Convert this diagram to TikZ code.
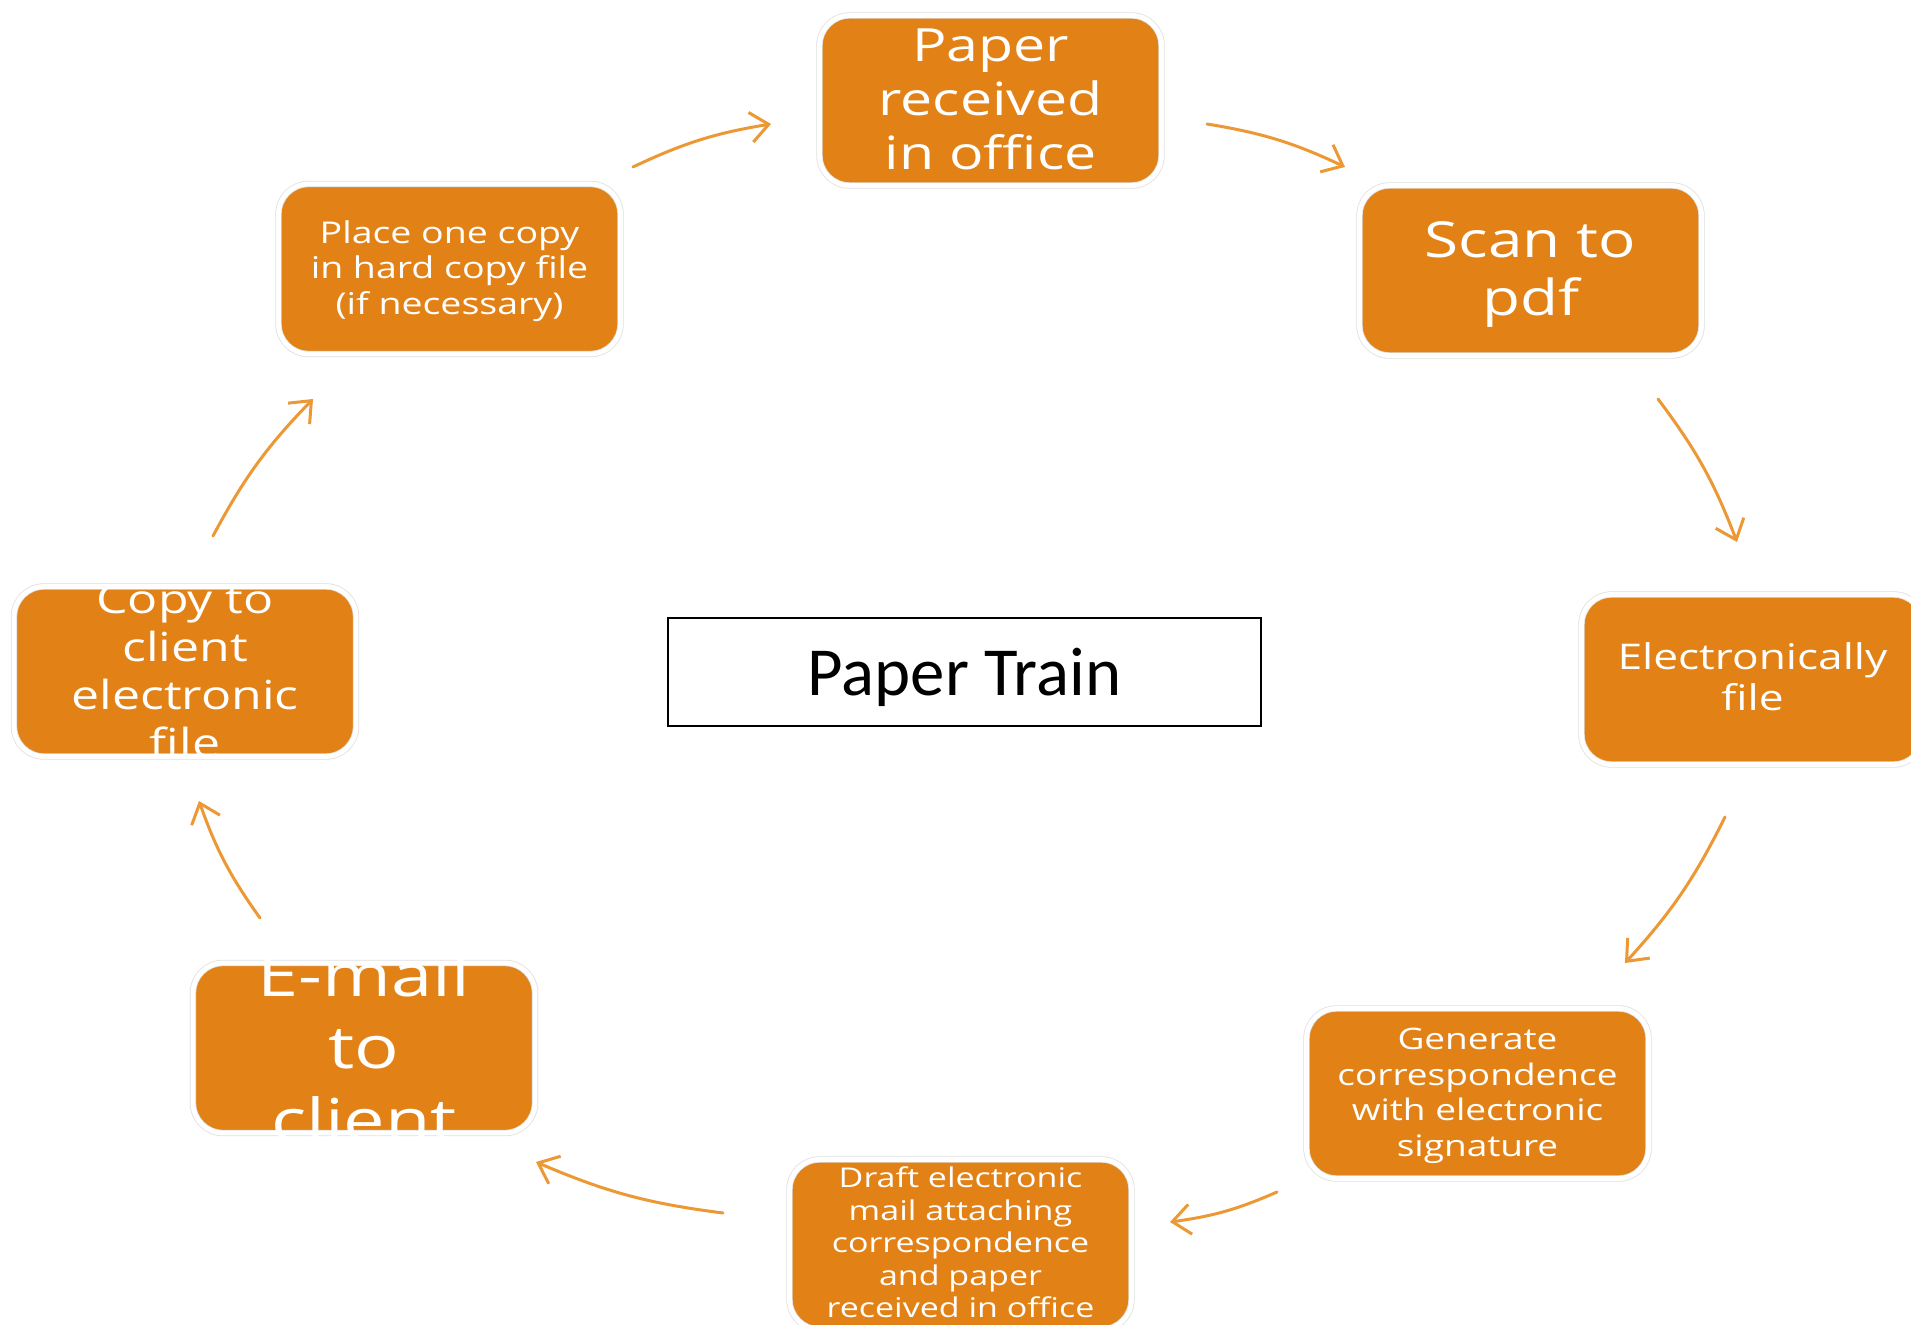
\documentclass[tikz,border=0pt]{standalone}
\usepackage{fontspec}
\setmainfont{Open Sans}
\newfontfamily\boxfont[FakeStretch=1.25]{Open Sans}
\newfontfamily\calfont{Carlito}
\usetikzlibrary{arrows.meta}
\definecolor{boxorange}{RGB}{226,130,22}
\definecolor{arroworange}{RGB}{236,152,52}
\begin{document}
\begin{tikzpicture}[x=0.5pt,y=-0.5pt,
  box/.style={draw=black!12, line width=0.4pt, double=white, double distance=2.4pt,
    fill=boxorange, rounded corners=15pt, minimum width=171pt, minimum height=85pt, inner sep=0pt},
  boxtxt/.style={text=white, align=center, inner sep=0pt, font=\boxfont},
  flow/.style={draw=arroworange, line width=1.5pt, line cap=round,
    -{Straight Barb[length=9pt,width=15pt,line width=1.5pt]}, bend left=8},
  titlebox/.style={draw=black, line width=0.7pt, fill=white, minimum width=296.5pt, minimum height=54pt, inner sep=0pt}]
\useasboundingbox (0,0) rectangle (1911,1325);
\fill[white] (0,0) rectangle (1911,1325);
\begin{scope}
\clip (0,0) rectangle (1911,1325);
% boxes
\node[box] (b1) at (990.5,100.5) {};
\node[box] (b2) at (1530.5,270.5) {};
\node[box] (b3) at (1752.5,679.5) {};
\node[box] (b4) at (1477.5,1093.5) {};
\node[box] (b5) at (960.5,1244.5) {};
\node[box] (b6) at (364,1048) {};
\node[box] (b7) at (185,671.5) {};
\node[box] (b8) at (449.5,269) {};
% texts
\node[boxtxt, font=\boxfont\fontsize{22.9}{27}\selectfont] (t1) at ([yshift=0.8pt]b1) {Paper\\received\\in office};
\node[boxtxt, font=\boxfont\fontsize{24.8}{29}\selectfont] (t2) at ([yshift=-1.8pt]b2) {Scan to\\pdf};
\node[boxtxt, font=\boxfont\fontsize{17.7}{20.7}\selectfont] (t3) at ([yshift=1.5pt]b3) {Electronically\\file};
\node[boxtxt, font=\boxfont\fontsize{14.8}{17.7}\selectfont] (t4) at ([yshift=-1.2pt]b4) {Generate\\correspondence\\with electronic\\signature};
\node[boxtxt, font=\boxfont\fontsize{13.6}{16.3}\selectfont] (t5) at ([yshift=1pt]b5) {Draft electronic\\mail attaching\\correspondence\\and paper\\received in office};
\node[boxtxt, font=\boxfont\fontsize{29.6}{36.3}\selectfont] (t6) at ([yshift=0.8pt]b6) {E-mail\\to\\client};
\node[boxtxt, font=\boxfont\fontsize{20}{24}\selectfont] (t7) at (b7) {Copy to\\client\\electronic\\file};
\node[boxtxt, font=\boxfont\fontsize{15}{17.7}\selectfont] (t8) at ([yshift=-1pt]b8) {Place one copy\\in hard copy file\\(if necessary)};
\end{scope}
% centre title
\node[titlebox] (title) at (964.5,672) {};
\node[inner sep=0pt, font=\calfont\fontsize{34.4}{40}\selectfont] (titletext) at ([yshift=-2.5pt]title) {Paper Train};
% arrow end points
\coordinate (c1s) at (633,167);  \coordinate (c1e) at (771,124);
\coordinate (c2s) at (1207,124); \coordinate (c2e) at (1345,167);
\coordinate (c3s) at (1658,399); \coordinate (c3e) at (1737,542);
\coordinate (c4s) at (1725,817); \coordinate (c4e) at (1625,963);
\coordinate (c5s) at (1277,1192); \coordinate (c5e) at (1170,1222);
\coordinate (c6s) at (723,1213); \coordinate (c6e) at (536,1162);
\coordinate (c7s) at (260,918);  \coordinate (c7e) at (199,801);
\coordinate (c8s) at (213,536);  \coordinate (c8e) at (313,399);
\draw[flow] (c1s) to (c1e);
\draw[flow] (c2s) to (c2e);
\draw[flow] (c3s) to (c3e);
\draw[flow] (c4s) to (c4e);
\draw[flow] (c5s) to (c5e);
\draw[flow] (c6s) to (c6e);
\draw[flow] (c7s) to (c7e);
\draw[flow] (c8s) to (c8e);
\end{tikzpicture}
\end{document}
